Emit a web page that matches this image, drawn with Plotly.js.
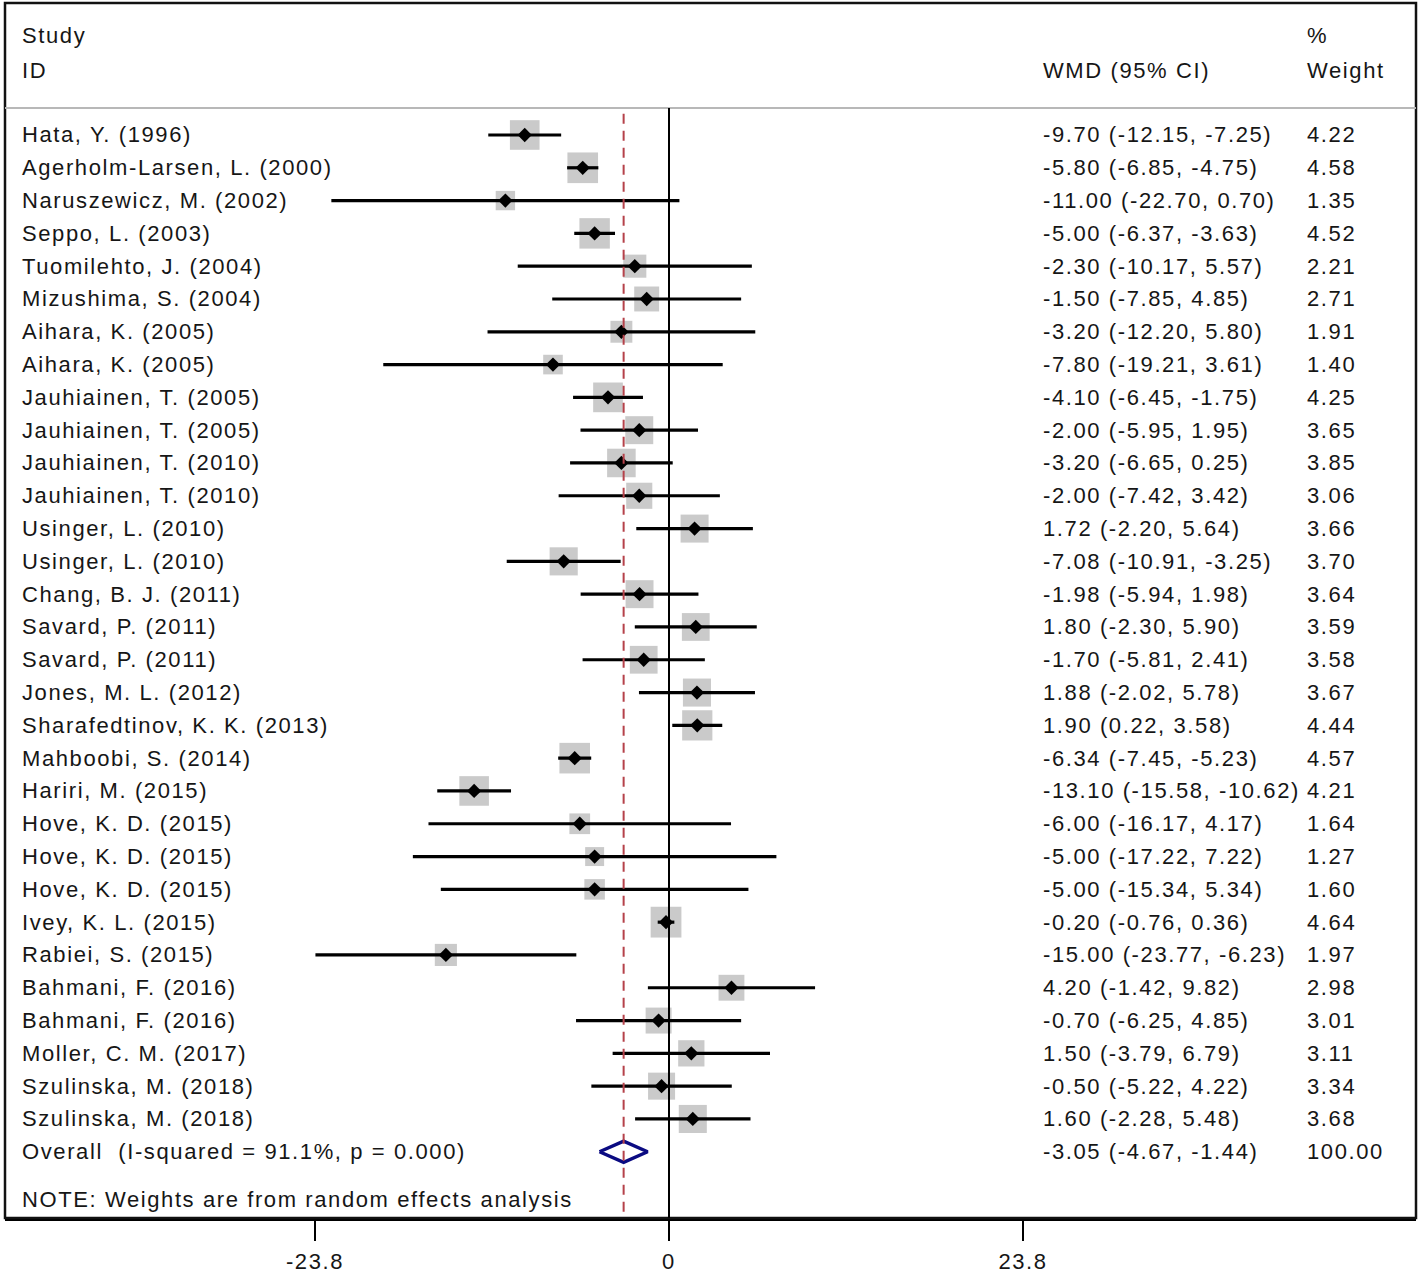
<!DOCTYPE html>
<html>
<head>
<meta charset="utf-8">
<script src="https://cdn.plot.ly/plotly-3.0.1.min.js"></script>
<style>
  html, body { margin: 0; padding: 0; background: #ffffff; }
  #chart { width: 1418px; height: 1276px; }
  svg text { letter-spacing: 1.6px; }
</style>
</head>
<body>
<div id="chart"></div>
<script>
// ---------------- DATA ----------------
const studies = [
  "Hata, Y. (1996)", "Agerholm-Larsen, L. (2000)", "Naruszewicz, M. (2002)", "Seppo, L. (2003)",
  "Tuomilehto, J. (2004)", "Mizushima, S. (2004)", "Aihara, K. (2005)", "Aihara, K. (2005)",
  "Jauhiainen, T. (2005)", "Jauhiainen, T. (2005)", "Jauhiainen, T. (2010)", "Jauhiainen, T. (2010)",
  "Usinger, L. (2010)", "Usinger, L. (2010)", "Chang, B. J. (2011)", "Savard, P. (2011)",
  "Savard, P. (2011)", "Jones, M. L. (2012)", "Sharafedtinov, K. K. (2013)", "Mahboobi, S. (2014)",
  "Hariri, M. (2015)", "Hove, K. D. (2015)", "Hove, K. D. (2015)", "Hove, K. D. (2015)",
  "Ivey, K. L. (2015)", "Rabiei, S. (2015)", "Bahmani, F. (2016)", "Bahmani, F. (2016)",
  "Moller, C. M. (2017)", "Szulinska, M. (2018)", "Szulinska, M. (2018)"
];
const wmd = [-9.70, -5.80, -11.00, -5.00, -2.30, -1.50, -3.20, -7.80, -4.10, -2.00, -3.20, -2.00,
  1.72, -7.08, -1.98, 1.80, -1.70, 1.88, 1.90, -6.34, -13.10, -6.00, -5.00, -5.00, -0.20, -15.00,
  4.20, -0.70, 1.50, -0.50, 1.60];
const ciLow = [-12.15, -6.85, -22.70, -6.37, -10.17, -7.85, -12.20, -19.21, -6.45, -5.95, -6.65, -7.42,
  -2.20, -10.91, -5.94, -2.30, -5.81, -2.02, 0.22, -7.45, -15.58, -16.17, -17.22, -15.34, -0.76, -23.77,
  -1.42, -6.25, -3.79, -5.22, -2.28];
const ciHigh = [-7.25, -4.75, 0.70, -3.63, 5.57, 4.85, 5.80, 3.61, -1.75, 1.95, 0.25, 3.42,
  5.64, -3.25, 1.98, 5.90, 2.41, 5.78, 3.58, -5.23, -10.62, 4.17, 7.22, 5.34, 0.36, -6.23,
  9.82, 4.85, 6.79, 4.22, 5.48];
const weights = [4.22, 4.58, 1.35, 4.52, 2.21, 2.71, 1.91, 1.40, 4.25, 3.65, 3.85, 3.06,
  3.66, 3.70, 3.64, 3.59, 3.58, 3.67, 4.44, 4.57, 4.21, 1.64, 1.27, 1.60, 4.64, 1.97,
  2.98, 3.01, 3.11, 3.34, 3.68];

const overallLabel = "Overall\u00a0\u00a0(I-squared = 91.1%, p = 0.000)";
const overallEst = -3.05;
const overallLow = -4.67;
const overallHigh = -1.44;
const overallWeight = 100.00;

const noteText = "NOTE: Weights are from random effects analysis";
const headerStudy = ["Study", "ID"];
const headerEffect = "WMD (95% CI)";
const headerWeight = ["%", "Weight"];

const tickValues = [-23.8, 0, 23.8];
const tickLabels = ["-23.8", "0", "23.8"];

// ---------------- BUILD ----------------
const n = studies.length;
const rows = studies.map((_, i) => i + 1);
const overallRow = n + 1;
const noteRow = n + 2.47;

const FONT = { family: "Liberation Sans, Arial, sans-serif", size: 22, color: "#161616" };

// CI lines
const ciX = [], ciY = [];
for (let i = 0; i < n; i++) {
  ciX.push(ciLow[i], ciHigh[i], null);
  ciY.push(rows[i], rows[i], null);
}

const traces = [
  { // weight boxes
    type: "scatter", mode: "markers", x: wmd, y: rows,
    marker: { symbol: "square", color: "#b3b3b3",
      size: weights.map(w => 11.5 * Math.sqrt(w) + 6), line: { width: 0 } },
    hoverinfo: "skip", showlegend: false
  },
  { // confidence intervals
    type: "scatter", mode: "lines", x: ciX, y: ciY,
    line: { color: "#000000", width: 3.2 }, hoverinfo: "skip", showlegend: false
  },
  { // point estimates
    type: "scatter", mode: "markers", x: wmd, y: rows,
    marker: { symbol: "diamond", color: "#000000", size: 11, line: { width: 0 } },
    hoverinfo: "skip", showlegend: false
  },
  { // overall diamond
    type: "scatter", mode: "lines",
    x: [overallLow, overallEst, overallHigh, overallEst, overallLow],
    y: [overallRow, overallRow - 0.32, overallRow, overallRow + 0.32, overallRow],
    line: { color: "#0b0b82", width: 3.5 }, hoverinfo: "skip", showlegend: false
  }
];

const colStudy = 0.0105, colEffect = 0.7345, colWeight = 0.9215;
const annotations = [];
function addText(x, y, text) {
  annotations.push({ xref: "paper", yref: "y", x: x, y: y, text: text, showarrow: false,
    xanchor: "left", yanchor: "middle", align: "left", font: FONT });
}
// header
addText(colStudy, -2.02, headerStudy[0]);
addText(colStudy, -0.98, headerStudy[1]);
addText(colEffect, -0.98, headerEffect);
addText(colWeight, -2.02, headerWeight[0]);
addText(colWeight, -0.98, headerWeight[1]);
// rows
for (let i = 0; i < n; i++) {
  addText(colStudy, rows[i], studies[i]);
  addText(colEffect, rows[i], `${wmd[i].toFixed(2)} (${ciLow[i].toFixed(2)}, ${ciHigh[i].toFixed(2)})`);
  addText(colWeight, rows[i], weights[i].toFixed(2));
}
addText(colStudy, overallRow, overallLabel);
addText(colEffect, overallRow, `${overallEst.toFixed(2)} (${overallLow.toFixed(2)}, ${overallHigh.toFixed(2)})`);
addText(colWeight, overallRow, overallWeight.toFixed(2));
addText(colStudy, noteRow, noteText);

const headerLineRow = 0.177;
const yBottom = 34.02, yTop = -3.024;

const shapes = [
  { type: "rect", xref: "paper", yref: "paper", x0: 0, x1: 1, y0: 0, y1: 1,
    line: { color: "#111111", width: 2.5 } },
  { type: "line", xref: "paper", yref: "y", x0: 0, x1: 1, y0: headerLineRow, y1: headerLineRow,
    line: { color: "#b8b8b8", width: 2 } },
  { type: "line", xref: "x", yref: "y", x0: 0, x1: 0, y0: headerLineRow, y1: yBottom,
    line: { color: "#000000", width: 2 } },
  { type: "line", xref: "x", yref: "y", x0: overallEst, x1: overallEst, y0: 0.35, y1: yBottom,
    line: { color: "#b5414a", width: 2, dash: "10px,7px" } }
];

const layout = {
  width: 1418, height: 1276,
  margin: { l: 5, r: 2, t: 3, b: 58, pad: 0 },
  paper_bgcolor: "#ffffff", plot_bgcolor: "#ffffff",
  showlegend: false,
  xaxis: {
    range: [-44.64, 50.22], showgrid: false, zeroline: false,
    showline: true, linecolor: "#000000", linewidth: 3,
    tickmode: "array", tickvals: tickValues, ticktext: tickLabels,
    ticks: "outside", ticklen: 20, tickwidth: 2, tickcolor: "#000000",
    ticklabelstandoff: 2,
    tickfont: FONT, fixedrange: true
  },
  yaxis: { range: [yBottom, yTop], visible: false, fixedrange: true },
  shapes: shapes,
  annotations: annotations
};

Plotly.newPlot("chart", traces, layout, { staticPlot: true, displayModeBar: false });
</script>
</body>
</html>
